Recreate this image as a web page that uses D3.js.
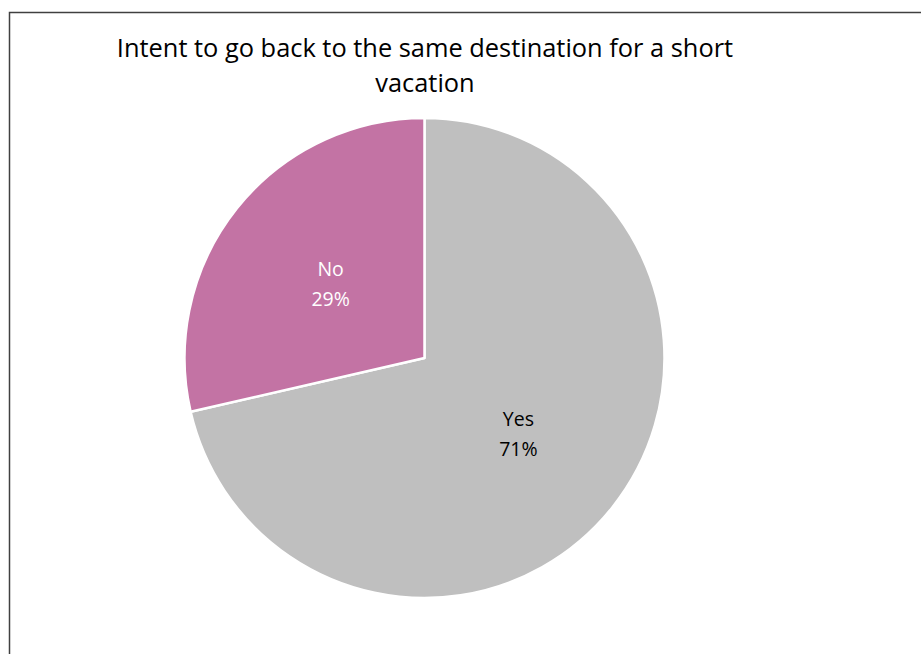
<!DOCTYPE html>
<html><head><meta charset="utf-8">
<script src="https://cdn.jsdelivr.net/npm/d3@7"></script>
<style>body{margin:0;background:#fff;} svg{display:block;}</style>
</head><body>
<svg id="c" width="921" height="654"></svg>
<script>
const categories = ["Yes", "No"];
const values = [71.4, 28.6];
const labels = ["71%", "29%"];
const colors = ["#BFBFBF", "#C373A4"];
const titleLines = ["Intent to go back to the same destination for a short", "vacation"];

const svg = d3.select("#c");
const font = "'Open Sans', sans-serif";

svg.append("rect").attr("x", 9.5).attr("y", 12.5).attr("width", 1000).attr("height", 1000)
  .attr("fill", "#fff").attr("stroke", "#404040").attr("stroke-width", 1.5);

const cx = 424.5, cy = 358, r = 240;
const pie = d3.pie().sort(null).value(d => d)(values);
const arc = d3.arc().innerRadius(0).outerRadius(r);
const g = svg.append("g").attr("transform", `translate(${cx},${cy})`);
g.selectAll("path").data(pie).join("path")
  .attr("d", arc).attr("fill", (d, i) => colors[i])
  .attr("stroke", "#fff").attr("stroke-width", 2.5).attr("stroke-linejoin", "round");

const labelArc = d3.arc().innerRadius(r * 0.5).outerRadius(r * 0.5);
const lg = g.selectAll("g.lbl").data(pie).join("g").attr("class", "lbl")
  .attr("transform", d => `translate(${labelArc.centroid(d)})`);
lg.append("text").attr("text-anchor", "middle").attr("y", -7)
  .attr("font-family", font).attr("font-size", 19.5)
  .attr("fill", (d, i) => i === 0 ? "#000" : "#fff").text((d, i) => categories[i]);
lg.append("text").attr("text-anchor", "middle").attr("y", 23)
  .attr("font-family", font).attr("font-size", 19.5)
  .attr("fill", (d, i) => i === 0 ? "#000" : "#fff").text((d, i) => labels[i]);

svg.selectAll("text.title").data(titleLines).join("text").attr("class", "title")
  .attr("x", 425).attr("y", (d, i) => 57 + i * 35)
  .attr("text-anchor", "middle").attr("font-family", font).attr("font-size", 25.4)
  .attr("fill", "#000").text(d => d);
</script>
</body></html>
